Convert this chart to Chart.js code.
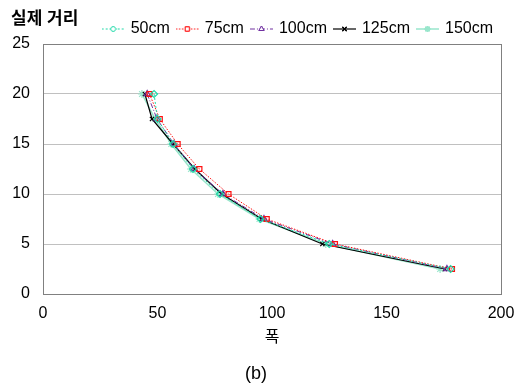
<!DOCTYPE html>
<html>
<head>
<meta charset="utf-8">
<script src="https://cdn.jsdelivr.net/npm/chart.js@4/dist/chart.umd.min.js"></script>
<style>
  html, body { margin: 0; padding: 0; background: #fff; }
  #wrap { width: 532px; height: 386px; }
</style>
</head>
<body>
<div id="wrap"><canvas id="distChart"></canvas></div>
<script>
// measured distance levels (y) and width readings (x) per camera distance
const distances = [20, 17.5, 15, 12.5, 10, 7.5, 5, 2.5];
const width50 = [48.5, 50, 56.8, 65.5, 77.3, 95, 125, 178];
const width75 = [46.5, 51, 58.8, 68.3, 81, 97.7, 127.5, 178.6];
const width100 = [45.5, 49.8, 57.2, 66, 78.6, 96.5, 126.5, 176.4];
const width125 = [44.5, 47.6, 56.8, 66.3, 78, 95.5, 122, 175.5];
const width150 = [43.2, 49, 56, 64.6, 76.4, 94.5, 123.5, 173.4];
const seriesLabels = ['50cm', '75cm', '100cm', '125cm', '150cm'];
const xTicks = [0, 50, 100, 150, 200];
const yTicks = [0, 5, 10, 15, 20, 25];

const FONT = "'Liberation Sans', 'Noto Sans CJK KR', sans-serif";
Chart.defaults.font.family = FONT;
Chart.defaults.color = '#000';

const styles = [
  { color: '#1fd9a8', dash: [2, 2], point: 'rectRot', radius: 3.5, width: 1 },
  { color: '#ff1010', dash: [1.5, 1.5], point: 'rect', radius: 3.5, width: 1 },
  { color: '#7030a0', dash: [5, 2, 1, 2], point: 'triangle', radius: 3.5, width: 1 },
  { color: '#000000', dash: [], point: 'crossRot', radius: 3, width: 1.2 },
  { color: '#99e6cc', dash: [], point: 'star', radius: 4, width: 1.5 }
];

function toPoints(xs){
  return xs.map((x, i) => ({ x: x, y: distances[i] }));
}

// small canvas with line + marker, used as legend symbol
function legendIcon(style){
  const c = document.createElement('canvas');
  c.width = 23; c.height = 10;
  const ctx = c.getContext('2d');
  ctx.strokeStyle = style.color;
  ctx.lineWidth = style.width;
  ctx.setLineDash(style.dash);
  ctx.beginPath();
  ctx.moveTo(0, 5); ctx.lineTo(23, 5);
  ctx.stroke();
  ctx.setLineDash([]);
  ctx.fillStyle = '#fff';
  Chart.helpers.drawPoint(ctx, { pointStyle: style.point, radius: 3, borderWidth: 1.2 }, 11.5, 5);
  ctx.fill();
  ctx.stroke();
  return c;
}

function makeDataset(label, xs, style){
  return {
    label: label,
    data: toPoints(xs),
    showLine: true,
    borderColor: style.color,
    backgroundColor: '#fff',
    borderWidth: style.width,
    borderDash: style.dash,
    pointStyle: style.point,
    pointRadius: style.radius,
    pointBorderWidth: 1.2,
    pointBorderColor: style.color,
    pointBackgroundColor: 'rgba(255,255,255,0)',
    tension: 0
  };
}

const allWidths = [width50, width75, width100, width125, width150];
const datasets = seriesLabels.map((l, i) => makeDataset(l, allWidths[i], styles[i]));
const icons = styles.map(legendIcon);

const frameBox = {
  id: 'frameBox',
  beforeDatasetsDraw(chart){
    const a = chart.chartArea, ctx = chart.ctx;
    ctx.save();
    ctx.strokeStyle = '#808080';
    ctx.lineWidth = 1;
    ctx.strokeRect(Math.round(a.left) + 0.5, Math.round(a.top) + 0.5, Math.round(a.right - a.left), Math.round(a.bottom - a.top));
    ctx.restore();
  }
};

new Chart(document.getElementById('distChart'), {
  type: 'scatter',
  data: { datasets: datasets },
  plugins: [frameBox],
  options: {
    responsive: true,
    maintainAspectRatio: false,
    animation: false,
    layout: { padding: { left: 11, right: 31, top: 0, bottom: 0 } },
    plugins: {
      tooltip: { enabled: false },
      title: {
        display: true,
        text: '실제 거리',
        align: 'start',
        font: { size: 17, weight: 'bold' },
        padding: { top: 8.8, bottom: -16.2 }
      },
      legend: {
        display: true,
        position: 'top',
        align: 'end',
        maxHeight: 31,
        labels: {
          usePointStyle: true,
          pointStyleWidth: 19,
          generateLabels(chart){
            return chart.data.datasets.map((ds, i) => ({
              text: ds.label,
              pointStyle: icons[i],
              fillStyle: '#fff',
              strokeStyle: ds.borderColor,
              lineWidth: 0,
              hidden: false,
              datasetIndex: i
            }));
          },
          font: { size: 16, lineHeight: 1 },
          padding: 8,
          boxHeight: 10
        }
      },
      subtitle: {
        display: true,
        text: '(b)',
        position: 'bottom',
        font: { size: 18 },
        padding: { top: 9, bottom: 1 }
      }
    },
    scales: {
      x: {
        type: 'linear',
        min: 0, max: 200,
        afterBuildTicks(axis){ axis.ticks = xTicks.map(v => ({ value: v })); },
        afterFit(axis){ axis.height = 60.4; },
        grid: { display: false, drawTicks: false },
        border: { display: false },
        ticks: { font: { size: 16 }, padding: 10.4, maxRotation: 0 },
        title: { display: true, text: '폭', font: { size: 16 }, padding: { top: 1.4, bottom: 6.8 } }
      },
      y: {
        type: 'linear',
        min: 0, max: 25,
        afterBuildTicks(axis){ axis.ticks = yTicks.map(v => ({ value: v })); },
        afterFit(axis){ axis.width = 32; },
        grid: { color: '#c0c0c0', drawTicks: false },
        border: { display: false },
        ticks: { font: { size: 16 }, padding: 13 }
      }
    }
  }
});
</script>
</body>
</html>
